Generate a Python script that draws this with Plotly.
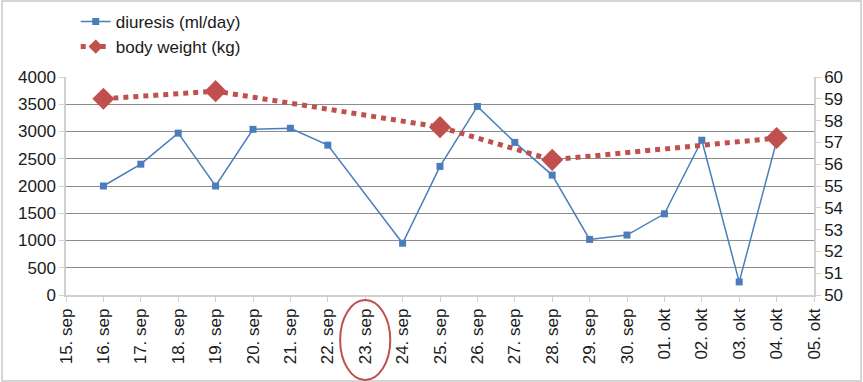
import plotly.graph_objects as go

dates = ["15. sep", "16. sep", "17. sep", "18. sep", "19. sep", "20. sep", "21. sep",
         "22. sep", "23. sep", "24. sep", "25. sep", "26. sep", "27. sep", "28. sep",
         "29. sep", "30. sep", "01. okt", "02. okt", "03. okt", "04. okt", "05. okt"]
diuresis = [None, 2000, 2400, 2970, 2000, 3040, 3060, 2750, None, 950, 2360, 3460,
            2800, 2200, 1020, 1100, 1490, 2840, 240, 2820, None]
body_weight = [None, 59.0, None, None, 59.35, None, None, None, None, None, 57.7, None,
               None, 56.2, None, None, None, None, None, 57.2, None]
circled_date = "23. sep"

FONT = "Arial, Liberation Sans, sans-serif"
BLUE = "#4A7EBB"
RED = "#C0504D"
GRID = "#8C8C8C"
AXIS = "#D0D0D0"

fig = go.Figure()
fig.add_trace(go.Scatter(
    x=dates, y=diuresis, name="diuresis (ml/day)", mode="lines+markers",
    connectgaps=True, line=dict(color=BLUE, width=1.5), showlegend=False,
    marker=dict(symbol="square", size=7, color=BLUE), yaxis="y"))
fig.add_trace(go.Scatter(
    x=dates, y=body_weight, name="body weight (kg)", mode="lines+markers",
    connectgaps=True, line=dict(color=RED, width=5, dash="dot"), showlegend=False,
    marker=dict(symbol="diamond", size=17, color=RED), yaxis="y2"))
# legend entries (smaller symbols, as in the original legend)
fig.add_trace(go.Scatter(
    x=[None], y=[None], name="diuresis (ml/day)", mode="lines+markers",
    line=dict(color=BLUE, width=1.5),
    marker=dict(symbol="square", size=7, color=BLUE), yaxis="y"))
fig.add_trace(go.Scatter(
    x=[None], y=[None], name="body weight (kg)", mode="lines+markers",
    line=dict(color=RED, width=5, dash="dot"),
    marker=dict(symbol="diamond", size=11, color=RED), yaxis="y2"))

ci = dates.index(circled_date)
fig.add_shape(type="circle", xref="x", yref="paper",
              x0=ci - 0.67, x1=ci + 0.67, y0=-0.39, y1=-0.023,
              line=dict(color=RED, width=2))
fig.add_shape(type="rect", xref="paper", yref="paper",
              x0=-0.0856, x1=1.063, y0=-0.394, y1=1.349,
              line=dict(color="#C8C8C8", width=1.5), layer="below")

fig.update_layout(
    width=863, height=382,
    margin=dict(l=66, r=49, t=77, b=87, autoexpand=False),
    paper_bgcolor="white", plot_bgcolor="white",
    font=dict(family=FONT, size=17, color="#1a1a1a"),
    showlegend=True,
    legend=dict(x=0.013, y=1.335, xanchor="left", yanchor="top",
                bgcolor="rgba(0,0,0,0)", font=dict(size=17),
                tracegroupgap=0, itemwidth=30),
    xaxis=dict(type="category", range=[0, 20], tickangle=-90, automargin=False,
               showgrid=False, showline=True, linecolor=AXIS, linewidth=1.5,
               ticks="outside", ticklen=5, tickcolor=AXIS, tickwidth=1,
               tickfont=dict(size=17)),
    yaxis=dict(range=[0, 4000], dtick=500, showgrid=True, gridcolor=GRID,
               gridwidth=1, zeroline=False, showline=True, linecolor=AXIS,
               automargin=False,
               linewidth=1.5, ticks="outside", ticklen=5, tickcolor=AXIS,
               tickfont=dict(size=17)),
    yaxis2=dict(range=[50, 60], dtick=1, overlaying="y", side="right",
                automargin=False,
                showgrid=False, zeroline=False, showline=True, linecolor=AXIS,
                linewidth=1.5, ticks="outside", ticklen=5, tickcolor=AXIS,
                tickfont=dict(size=17)),
)

fig.write_html("out.html", config={"displayModeBar": False},
               post_script="document.body.style.margin='0';")
